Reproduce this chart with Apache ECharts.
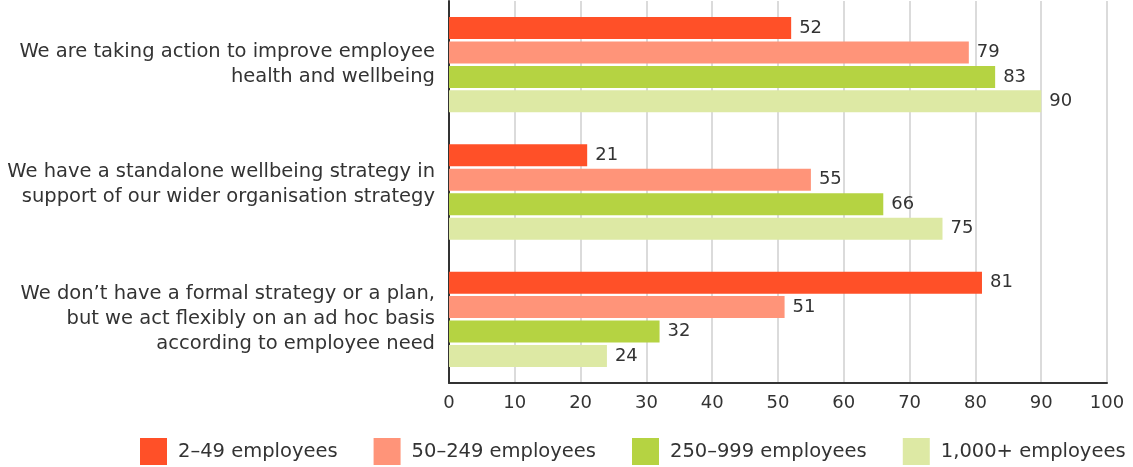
<!DOCTYPE html>
<html>
<head>
<meta charset="utf-8">
<script src="https://cdn.jsdelivr.net/npm/echarts@6/dist/echarts.min.js"></script>
<style>
  html, body { margin: 0; padding: 0; background: #fff; }
  #chart { width: 1133px; height: 467px; }
</style>
</head>
<body>
<div id="chart"></div>
<script>
// Statements about the organisation's approach to wellbeing (% of respondents)
const categories = [
  'We are taking action to improve employee\nhealth and wellbeing',
  'We have a standalone wellbeing strategy in\nsupport of our wider organisation strategy',
  'We don\u2019t have a formal strategy or a plan,\nbut we act flexibly on an ad hoc basis\naccording to employee need'
];
const seriesNames = ['2\u201349 employees', '50\u2013249 employees', '250\u2013999 employees', '1,000+ employees'];
const size2to49 = [52, 21, 81];
const size50to249 = [79, 55, 51];
const size250to999 = [83, 66, 32];
const size1000plus = [90, 75, 24];
const xTicks = [0, 10, 20, 30, 40, 50, 60, 70, 80, 90, 100];

const colors = ['#FF5028', '#FF9479', '#B5D342', '#DDE9A4'];
const seriesValues = [size2to49, size50to249, size250to999, size1000plus];
const FONT = '"DejaVu Sans", Verdana, sans-serif';
const TEXT = '#333333';

const chart = echarts.init(document.getElementById('chart'), null, { renderer: 'canvas' });

chart.setOption({
  animation: false,
  grid: { left: 449, right: 26, top: 1, height: 382, containLabel: false },
  xAxis: {
    type: 'value',
    min: xTicks[0],
    max: xTicks[xTicks.length - 1],
    interval: 10,
    axisLine: { show: true, lineStyle: { color: '#333', width: 2 } },
    axisTick: { show: false },
    axisLabel: { color: TEXT, fontFamily: FONT, fontSize: 18, margin: 11 },
    splitLine: { show: true, lineStyle: { color: '#cfcfcf', width: 1.5 } }
  },
  yAxis: {
    type: 'category',
    inverse: true,
    data: categories,
    axisLine: { show: true, lineStyle: { color: '#333', width: 2 } },
    axisTick: { show: false },
    axisLabel: {
      margin: 14,
      formatter: function (v, i) { return i === 1 ? '{up|' + v + '}' : '{n|' + v + '}'; },
      rich: {
        n: { color: TEXT, fontFamily: FONT, fontSize: 19.5, lineHeight: 25, align: 'right' },
        up: { color: TEXT, fontFamily: FONT, fontSize: 19.5, lineHeight: 25, align: 'right', padding: [0, 0, 16, 0] }
      }
    }
  },
  legend: {
    left: 140,
    top: 438,
    padding: 0,
    itemWidth: 27,
    itemHeight: 27,
    itemGap: 36,
    icon: 'rect',
    textStyle: { color: TEXT, fontFamily: FONT, fontSize: 19.5, padding: [0, 0, 0, 6] },
    data: seriesNames
  },
  series: seriesNames.map(function (name, k) {
    return {
      name: name,
      type: 'bar',
      data: seriesValues[k],
      barWidth: 22,
      barGap: '11%',
      itemStyle: { color: colors[k] },
      label: {
        show: true,
        position: 'right',
        distance: 8,
        color: TEXT,
        fontFamily: FONT,
        fontSize: 18
      }
    };
  })
});
</script>
</body>
</html>
